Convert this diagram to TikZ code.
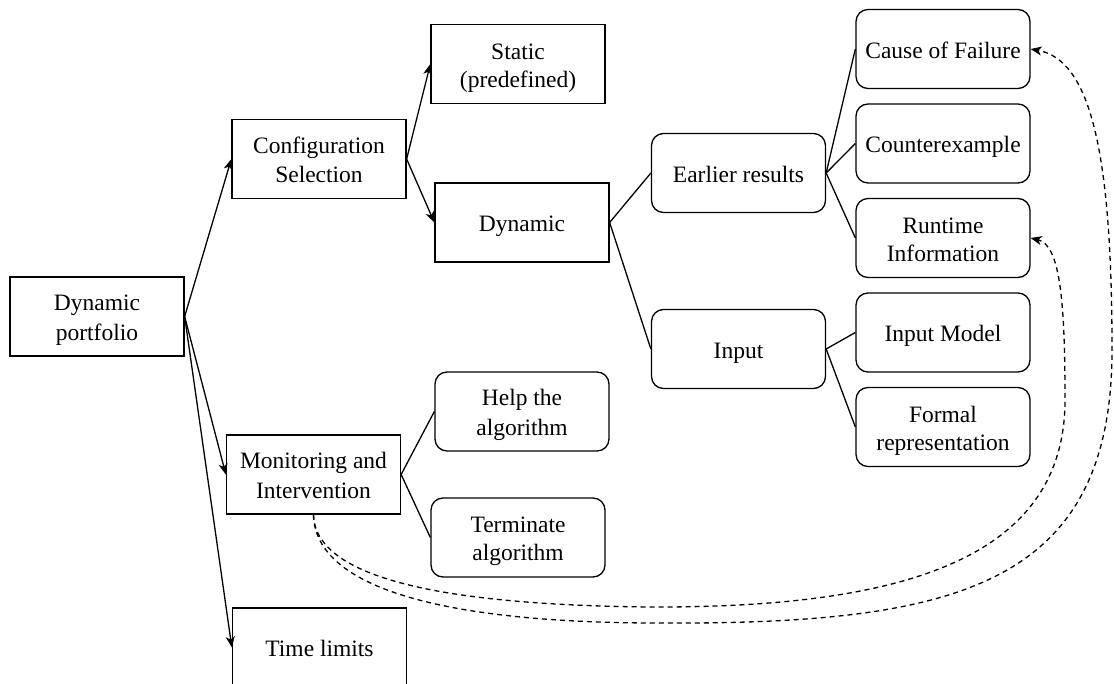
\documentclass[tikz,border=0pt]{standalone}
\usepackage{fontspec}
\setmainfont{Liberation Serif}
\usetikzlibrary{arrows.meta}
\newcommand{\linestrut}{\rule[-4.95pt]{0pt}{28.2pt}}
\newcommand{\onel}[1]{\linestrut#1\linestrut}
\newcommand{\twol}[2]{\linestrut#1\\#2\linestrut}
\begin{document}
\begin{tikzpicture}[x=1pt,y=-1pt,
  box/.style={draw, line width=1.3pt, minimum width=174pt, minimum height=79pt, inner xsep=2pt, inner ysep=0pt, align=center, font=\fontsize{23.5}{28.2}\selectfont},
  rbox/.style={box, rounded corners=12pt},
  arr/.style={line width=1.3pt, -{Stealth[length=11pt,width=9pt,inset=3pt]}},
  ln/.style={line width=1.3pt},
  dsh/.style={line width=1.3pt, dash pattern=on 5pt off 4pt, -{Stealth[length=11pt,width=9pt,inset=3pt]}}]
\useasboundingbox (0,0) rectangle (1114,684);
\node[box] (dp) at (97,316.5) {\twol{Dynamic}{portfolio}};
\node[box] (cfg) at (319,159) {\twol{Configuration}{Selection}};
\node[box] (stat) at (518,64) {\twol{Static}{(predefined)}};
\node[box] (dyn) at (522,222.5) {\onel{Dynamic}};
\node[rbox] (earl) at (738.5,173) {\onel{Earlier results}};
\node[rbox] (inp) at (738.5,349) {\onel{Input}};
\node[rbox] (cause) at (943,49) {\onel{Cause of Failure}};
\node[rbox] (counter) at (943,143.5) {\onel{Counterexample}};
\node[rbox] (runtime) at (943,238) {\twol{Runtime}{Information}};
\node[rbox] (imodel) at (943,332.5) {\onel{Input Model}};
\node[rbox] (formal) at (943,427) {\twol{Formal}{representation}};
\node[rbox] (help) at (522,411.5) {\twol{Help the}{algorithm}};
\node[rbox] (term) at (518,537.5) {\twol{Terminate}{algorithm}};
\node[box] (mon) at (313.5,474.5) {\twol{Monitoring and}{Intervention}};
\node[box] (time) at (319.5,647.5) {\onel{Time limits}};

\draw[arr] (dp.east) -- (cfg.west);
\draw[arr] (dp.east) -- (mon.west);
\draw[arr] (dp.east) -- (time.west);
\draw[arr] (cfg.east) -- (stat.west);
\draw[arr] (cfg.east) -- (dyn.west);
\draw[ln] (dyn.east) -- (earl.west);
\draw[ln] (dyn.east) -- (inp.west);
\draw[ln] (earl.east) -- (cause.west);
\draw[ln] (earl.east) -- (counter.west);
\draw[ln] (earl.east) -- (runtime.west);
\draw[ln] (inp.east) -- (imodel.west);
\draw[ln] (inp.east) -- (formal.west);
\draw[ln] (mon.east) -- (help.west);
\draw[ln] (mon.east) -- (term.west);

\draw[dsh] (mon.south) .. controls (315,580) and (450,605) .. (650,607)
  .. controls (900,608) and (1065,560) .. (1065,400)
  .. controls (1065,300) and (1060,245) .. (runtime.east);
\draw[dsh] (mon.south) .. controls (315,590) and (450,622) .. (650,623)
  .. controls (950,625) and (1112,590) .. (1112,350)
  .. controls (1112,150) and (1090,60) .. (cause.east);
\end{tikzpicture}
\end{document}
